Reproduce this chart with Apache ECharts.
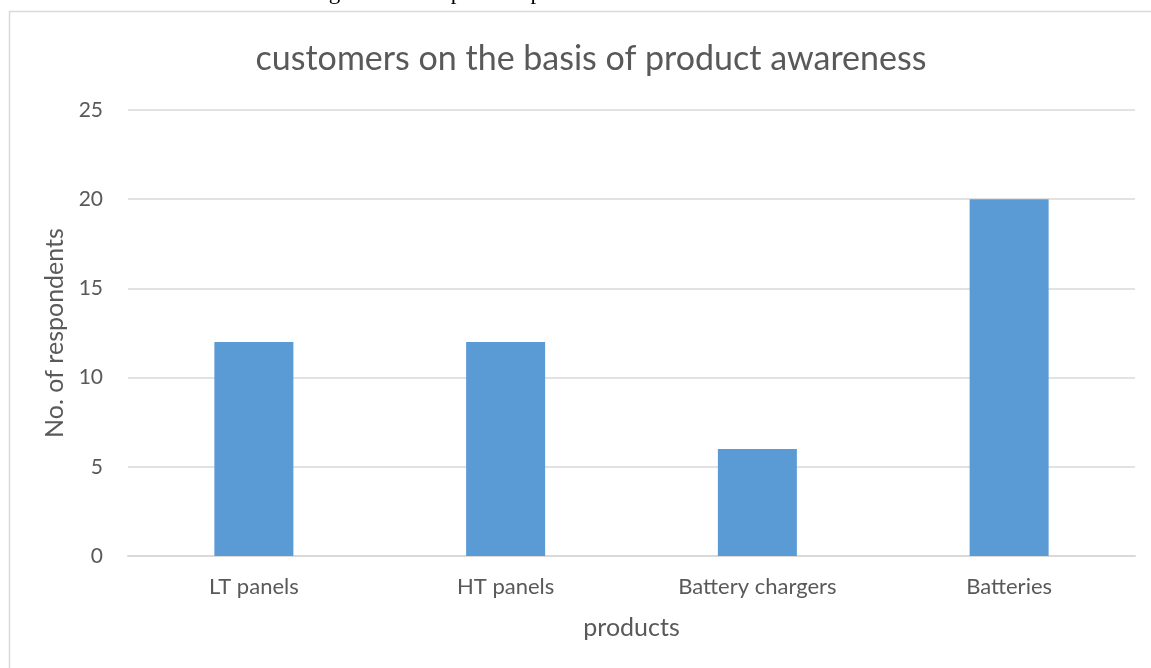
<!DOCTYPE html>
<html><head><meta charset="utf-8">
<script src="https://cdn.jsdelivr.net/npm/echarts@6/dist/echarts.min.js"></script>
<style>html,body{margin:0;padding:0;background:#fff}#c{width:1151px;height:668px}</style>
</head><body><div id="c"></div>
<script>
const categories = ["LT panels", "HT panels", "Battery chargers", "Batteries"];
const respondents = [12, 12, 6, 20];
const yTicks = [0, 5, 10, 15, 20, 25];
const titleText = "customers on the basis of product awareness";
const captionText = "Figure 4.4: Graphical representation on the basis of awareness";
const xName = "products";
const yName = "No. of respondents";

const chart = echarts.init(document.getElementById('c'), null, {renderer: 'canvas'});
const font = 'Lato, "Open Sans", sans-serif';
chart.setOption({
  animation: false,
  graphic: [
    {type: 'rect', shape: {x: 9.5, y: 11.5, width: 1160, height: 700}, style: {fill: 'none', stroke: '#d9d9d9', lineWidth: 1.5}},
    {type: 'text', x: 596, y: -19, style: {text: captionText, font: '23px "Liberation Serif", serif', fill: '#000', align: 'center', verticalAlign: 'top'}}
  ],
  title: {text: titleText, left: 586, textAlign: 'center', top: 37, textStyle: {fontFamily: font, fontWeight: 'normal', fontSize: 34, color: '#595959'}},
  grid: {left: 128, right: 16, top: 110, bottom: 112, containLabel: false},
  xAxis: {
    type: 'category', data: categories,
    name: xName, nameLocation: 'middle', nameGap: 59,
    nameTextStyle: {fontFamily: font, fontSize: 25, color: '#595959'},
    axisLine: {lineStyle: {color: '#d9d9d9', width: 2}},
    axisTick: {show: false},
    axisLabel: {fontFamily: font, fontSize: 22, color: '#595959', margin: 20}
  },
  yAxis: {
    type: 'value', min: 0, max: 25, interval: 5,
    name: yName, nameLocation: 'middle', nameGap: 58,
    nameTextStyle: {fontFamily: font, fontSize: 25, color: '#595959'},
    axisLine: {show: false}, axisTick: {show: false},
    splitLine: {lineStyle: {color: '#d9d9d9', width: 1.5}},
    axisLabel: {fontFamily: font, fontSize: 21, color: '#595959', margin: 25,
      formatter: v => yTicks.includes(v) ? String(v) : ''}
  },
  series: [{type: 'bar', data: respondents, barWidth: 79, itemStyle: {color: '#5b9bd5'}}]
});
</script></body></html>
